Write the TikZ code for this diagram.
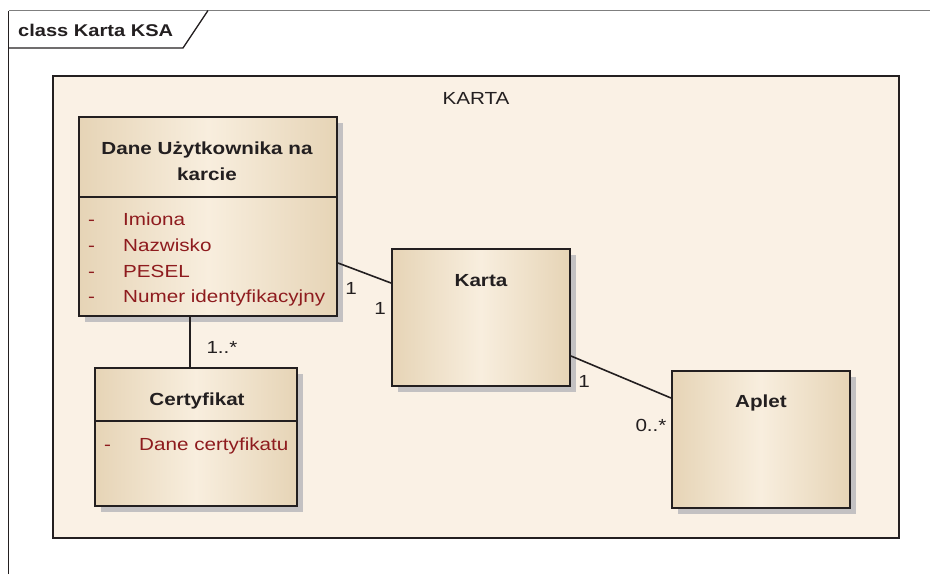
\documentclass[tikz,border=0pt]{standalone}
\usepackage{fontspec}
\setmainfont[FakeStretch=1.18]{Liberation Sans}
\usetikzlibrary{shadows}
\definecolor{edgec}{HTML}{231F20}
\definecolor{tanc}{HTML}{E6D4B6}
\definecolor{lightc}{HTML}{F8EEDE}
\definecolor{pkgc}{HTML}{FAF1E5}
\definecolor{shadc}{HTML}{C3C1C2}
\definecolor{attrc}{HTML}{8E1B1E}
\definecolor{framec}{HTML}{7F7F7F}
\tikzset{
  classbox/.style={draw=edgec, line width=2pt, rectangle, inner sep=0pt, anchor=north west,
    left color=tanc, right color=tanc, middle color=lightc,
    drop shadow={shadow xshift=6pt, shadow yshift=-6pt, fill=shadc, opacity=1}},
  pkgbox/.style={draw=edgec, line width=2pt, fill=pkgc, rectangle, inner sep=0pt, anchor=north west},
  titletext/.style={font=\fontsize{17.5}{26}\selectfont\bfseries, text=edgec, align=center, inner sep=0pt},
  attrtext/.style={font=\fontsize{17.5}{21}\selectfont, text=attrc, anchor=base west, inner sep=0pt},
  multtext/.style={font=\fontsize{17.5}{21}\selectfont, text=edgec, inner sep=0pt},
  sepline/.style={draw=edgec, line width=1.6pt},
  assoc/.style={draw=edgec, line width=1.6pt},
}
\begin{document}
\begin{tikzpicture}[x=1pt,y=-1pt]
\useasboundingbox (0,0) rectangle (930,574);
% frame
\coordinate (fbl) at (8.5,574);
\coordinate (ftl) at (8.5,10.5);
\coordinate (ftr) at (930,10.5);
\coordinate (tabl) at (8.5,48);
\coordinate (tabb) at (183,48);
\coordinate (tabt) at (208,10.5);
\draw[framec, line width=1.5pt] (ftl) -- (ftr);
\draw[edgec, line width=1.3pt] (fbl) -- (ftl);
\draw[edgec, line width=1.3pt] (tabl) -- (tabb) -- (tabt);
\node[font=\fontsize{17}{20}\selectfont\bfseries, text=edgec, anchor=west, inner sep=0pt] (frametitle) at (18,30) {class Karta KSA};
% package
\node[pkgbox, minimum width=846pt, minimum height=462pt] (pkg) at (52,74.5) {};
\node[multtext] (pkgname) at (476,98) {KARTA};
% Dane Uzytkownika
\node[classbox, minimum width=258pt, minimum height=199pt] (dane) at (78,116) {};
\draw[sepline] (dane.west |- 0,197) -- (dane.east |- 0,197);
\node[titletext] (danet) at (207,161) {Dane Użytkownika na\\karcie};
\node[attrtext] (d1) at (88,225) {-};
\node[attrtext] (a1) at (123,225) {Imiona};
\node[attrtext] (d2) at (88,251) {-};
\node[attrtext] (a2) at (123,251) {Nazwisko};
\node[attrtext] (d3) at (88,277) {-};
\node[attrtext] (a3) at (123,277) {PESEL};
\node[attrtext] (d4) at (88,302) {-};
\node[attrtext] (a4) at (123,302) {Numer identyfikacyjny};
% Certyfikat
\node[classbox, minimum width=202pt, minimum height=138pt] (cert) at (94,367) {};
\draw[sepline] (cert.west |- 0,421) -- (cert.east |- 0,421);
\node[titletext] (certt) at (197,401) {Certyfikat};
\node[attrtext] (d5) at (104,450) {-};
\node[attrtext] (a5) at (139,450) {Dane certyfikatu};
% Karta
\node[classbox, minimum width=178pt, minimum height=137pt] (karta) at (391,248) {};
\node[titletext] (kartat) at (481,281) {Karta};
% Aplet
\node[classbox, minimum width=178pt, minimum height=137pt] (aplet) at (671,370) {};
\node[titletext] (aplett) at (761,403) {Aplet};
% associations
\draw[assoc] (dane.east |- 0,263) -- (karta.west |- 0,283);
\draw[assoc] (karta.east |- 0,356) -- (aplet.west |- 0,398);
\draw[assoc] (dane.south -| 190,0) -- (cert.north -| 190,0);
\node[multtext] (m1) at (351,288) {1};
\node[multtext] (m2) at (380,308) {1};
\node[multtext] (m3) at (584,381) {1};
\node[multtext] (m4) at (651,425) {0..*};
\node[multtext] (m5) at (222,347) {1..*};
\end{tikzpicture}
\end{document}
